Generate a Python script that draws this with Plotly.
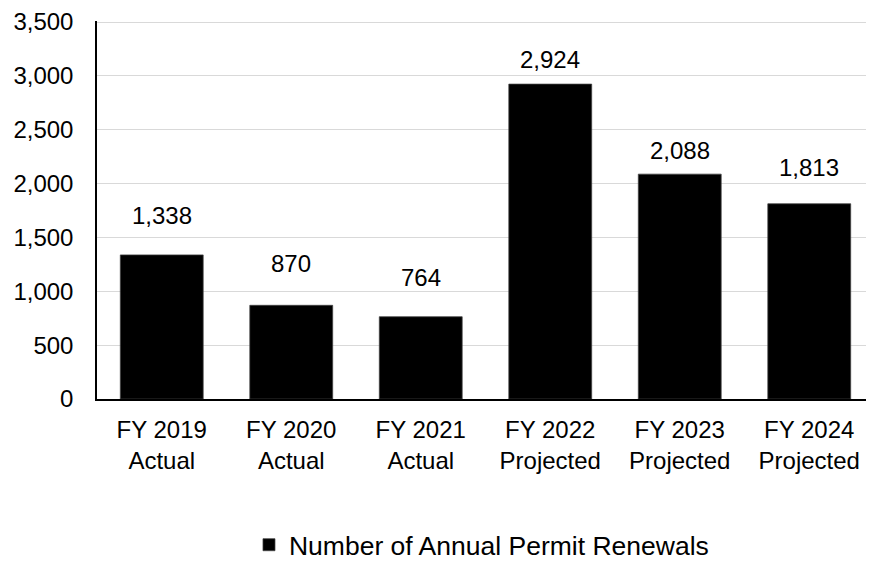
import plotly.graph_objects as go

categories = ["FY 2019<br>Actual", "FY 2020<br>Actual", "FY 2021<br>Actual",
              "FY 2022<br>Projected", "FY 2023<br>Projected", "FY 2024<br>Projected"]
renewals = [1338, 870, 764, 2924, 2088, 1813]
series_name = "Number of Annual Permit Renewals"
y_ticks = [0, 500, 1000, 1500, 2000, 2500, 3000, 3500]

# label offsets above bar tops (pixels), as placed in the reference
label_shift = [39, 42, 39, 25, 24, 36]

FONT = "Liberation Sans, Arial, sans-serif"

fig = go.Figure()
fig.add_trace(go.Bar(
    x=categories, y=renewals, name=series_name,
    marker=dict(color="#000000", line=dict(color="#404040", width=0.75)),
    showlegend=True,
))

for cat, val, sh in zip(categories, renewals, label_shift):
    fig.add_annotation(x=cat, y=val, text=f"{val:,}", showarrow=False,
                       yanchor="middle", yshift=sh,
                       font=dict(family=FONT, size=24, color="#000000"))

# page body has an 8px default margin, so the figure is sized to fit inside
fig.update_layout(
    width=866, height=561,
    margin=dict(l=89, r=0, t=9, b=164),
    paper_bgcolor="white", plot_bgcolor="white",
    font=dict(family=FONT, size=24, color="#000000"),
    bargap=0.36,
    showlegend=True,
    legend=dict(orientation="h", x=0.1956, xanchor="left",
                y=-0.3866, yanchor="middle",
                font=dict(family=FONT, size=26.5, color="#000000"),
                bgcolor="rgba(0,0,0,0)"),
)
fig.update_xaxes(showline=True, linecolor="#000000", linewidth=1.5,
                 showgrid=False, ticks="outside", ticklen=0,
                 ticklabelstandoff=8, tickfont=dict(size=24))
fig.update_yaxes(range=[0, 3510], tickvals=y_ticks, tickformat=",",
                 showline=True, linecolor="#000000", linewidth=1.5,
                 showgrid=True, gridcolor="#d9d9d9", gridwidth=1,
                 zeroline=False, ticks="outside", ticklen=0,
                 ticklabeloverflow="allow",
                 ticklabelstandoff=17, tickfont=dict(size=24))

fig.write_html("out.html")
